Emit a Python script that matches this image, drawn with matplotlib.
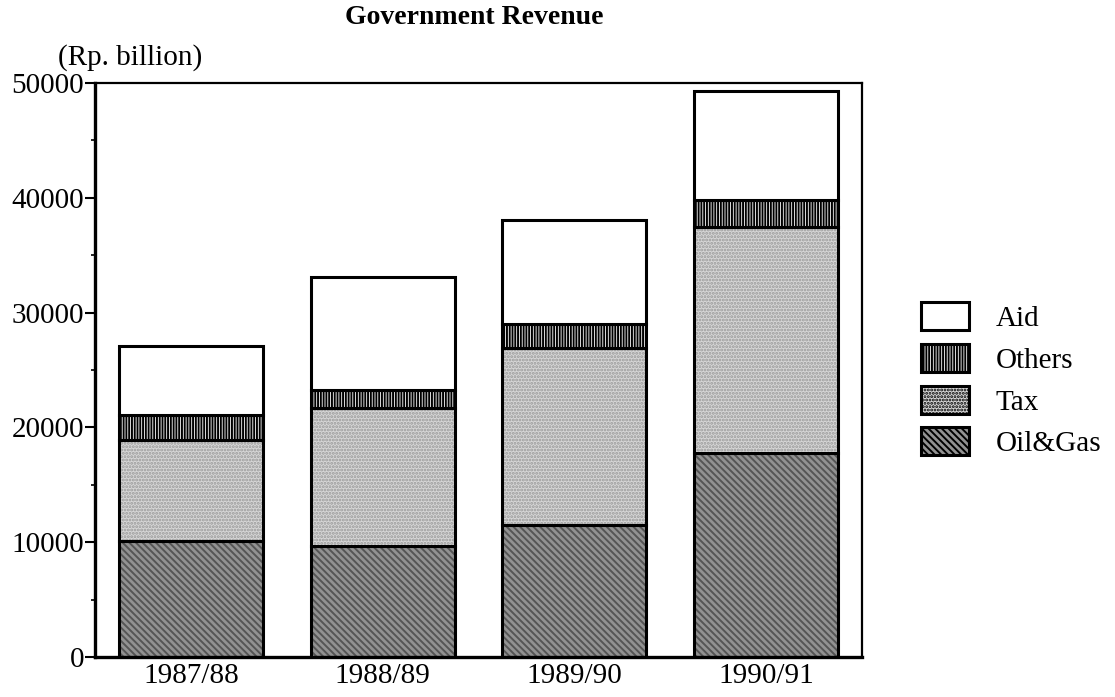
from matplotlib import rcParams, pyplot as plt
from matplotlib.patches import Patch
import numpy as np

rcParams.update({'font.family': 'Liberation Serif', 'font.size': 21,
                 'hatch.linewidth': 1.4})

years = ['1987/88', '1988/89', '1989/90', '1990/91']
oil_gas = [10100, 9700, 11500, 17800]
tax = [8800, 12000, 15400, 19700]
others = [2200, 1600, 2100, 2300]
aid = [6000, 9800, 9100, 9500]

series = [('Oil&Gas', oil_gas), ('Tax', tax), ('Others', others), ('Aid', aid)]
# face colour, hatch colour, hatch pattern
styles = {'Oil&Gas': ('#929292', '#555555', '\\\\\\\\\\'),
          'Tax': ('#d6d6d6', '#999999', '.....'),
          'Others': ('#ffffff', '#000000', '||||||'),
          'Aid': ('#ffffff', '#ffffff', '')}

fig = plt.figure(figsize=(11.15, 6.97), dpi=100)
ax = fig.add_axes([0.0852, 0.0574, 0.6879, 0.8235])

x = np.arange(len(years))
w = 0.75
bottom = np.zeros(len(years))
for name, vals in series:
    fc, hc, hatch = styles[name]
    ax.bar(x, vals, w, bottom=bottom, color=fc, edgecolor=hc, hatch=hatch, linewidth=0)
    ax.bar(x, vals, w, bottom=bottom, fill=False, edgecolor='black', linewidth=2.2)
    bottom += np.array(vals)

ax.set_xlim(-0.5, 3.5)
ax.set_ylim(0, 50000)
ax.set_yticks(np.arange(0, 50001, 10000))
ax.set_yticks(np.arange(0, 50001, 5000), minor=True)
ax.set_xticks(x)
ax.set_xticklabels(years)
ax.tick_params(axis='y', which='major', length=7, width=1.5, pad=1)
ax.tick_params(axis='y', which='minor', length=3, width=1.2)
ax.tick_params(axis='x', length=0, pad=4)
for s in ['left', 'bottom']:
    ax.spines[s].set_linewidth(2.4)
for s in ['top', 'right']:
    ax.spines[s].set_linewidth(1.6)

fig.text(0.425, 0.975, 'Government Revenue', ha='center', va='center',
         fontsize=20, fontweight='bold')
fig.text(0.052, 0.917, '(Rp. billion)', ha='left', va='center')

handles = []
for name, vals in reversed(series):
    fc, hc, hatch = styles[name]
    handles.append(Patch(facecolor=fc, edgecolor='black', hatch=hatch, linewidth=2.2))
labels = [name for name, vals in reversed(series)]
fig.legend(handles, labels, loc='upper left', bbox_to_anchor=(0.826, 0.566),
           frameon=False, borderpad=0, borderaxespad=0, handlelength=1.65,
           handleheight=1.1, handletextpad=0.9, labelspacing=0.4)

plt.savefig('out.png', dpi=100)
